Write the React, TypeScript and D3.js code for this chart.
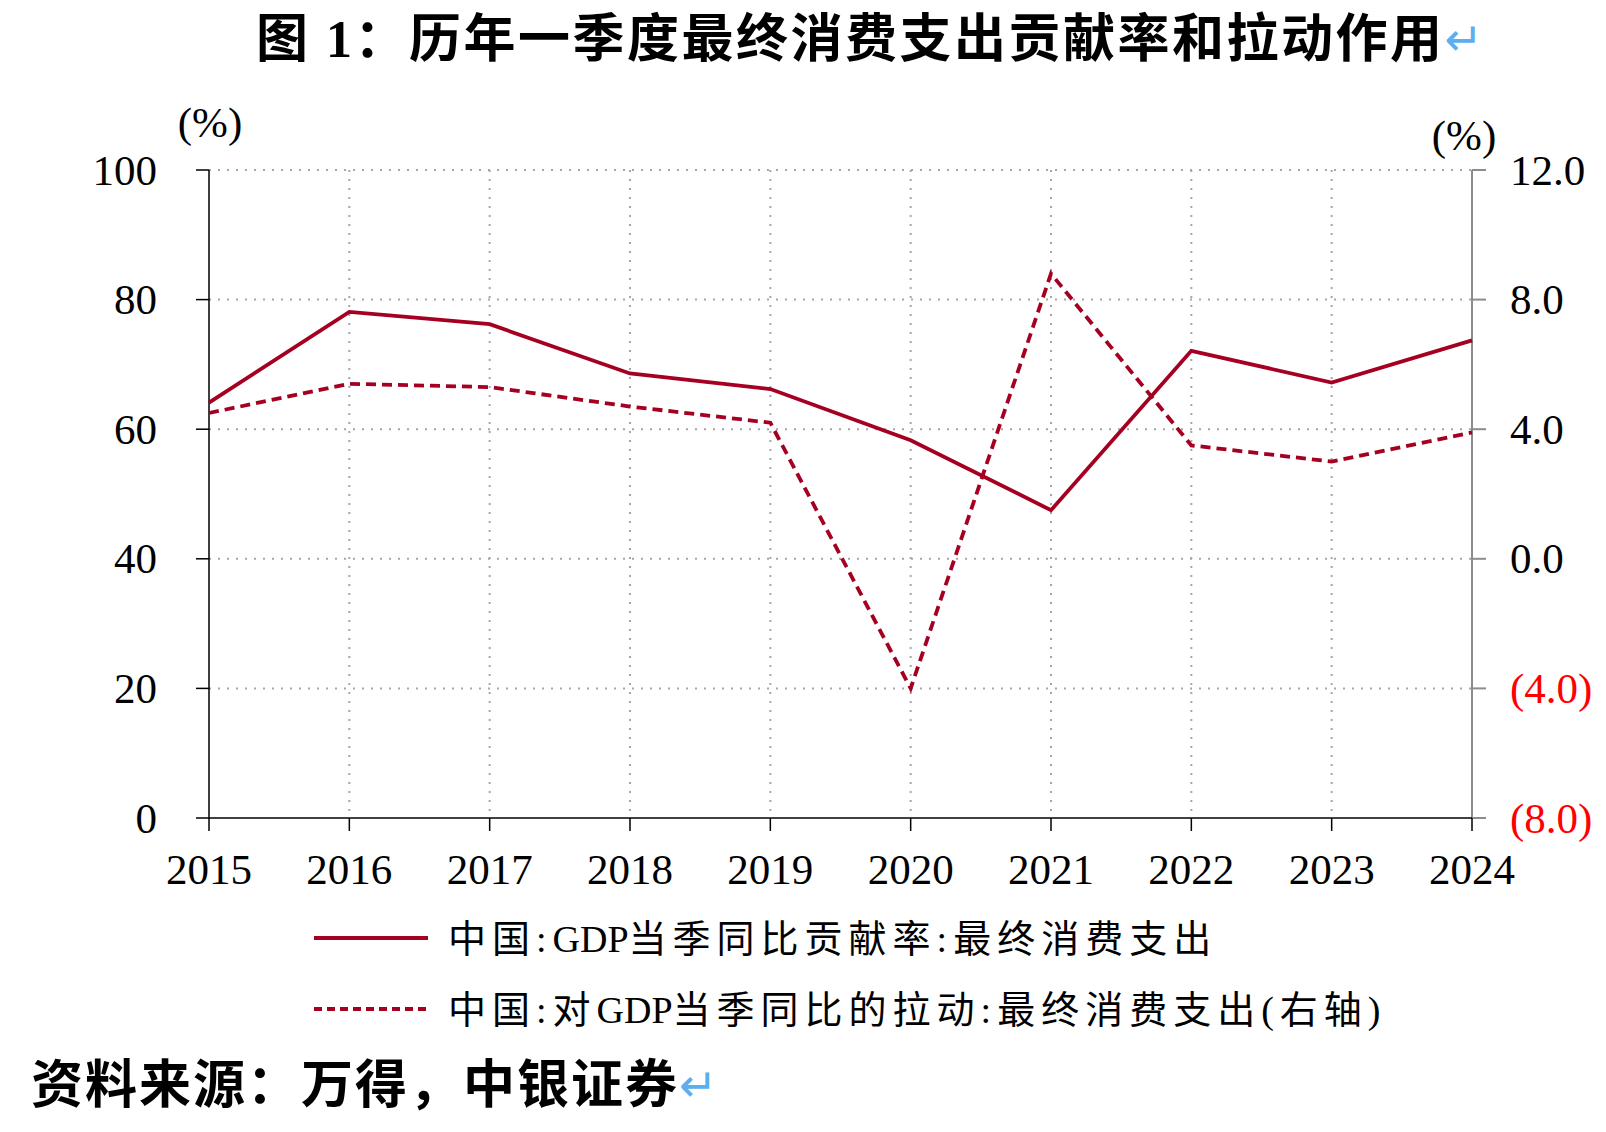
import React from 'react';
import * as d3 from 'd3';

const years = ['2015', '2016', '2017', '2018', '2019', '2020', '2021', '2022', '2023', '2024'];
const contributionRate = [64.1, 78.1, 76.2, 68.6, 66.2, 58.3, 47.5, 72.1, 67.2, 73.7];
const pullEffect = [4.5, 5.4, 5.3, 4.7, 4.2, -4.0, 8.8, 3.5, 3.0, 3.9];
const leftTicks = [0, 20, 40, 60, 80, 100];
const rightTicks = [-8, -4, 0, 4, 8, 12];
const titleText = '图 1：历年一季度最终消费支出贡献率和拉动作用';
const legendLabels = ['中国:GDP当季同比贡献率:最终消费支出', '中国:对GDP当季同比的拉动:最终消费支出(右轴)'];
const sourceText = '资料来源：万得，中银证券';
const unitLabel = '(%)';

const W = 1606;
const H = 1132;
const L = 209;
const R = 1472;
const T = 170;
const B = 818;
const RED = '#A50021';
const SERIF = '"Liberation Serif", "Times New Roman", "Noto Sans CJK SC", serif';

function LegendText({ label, x, y }: { label: string; x: number; y: number }) {
  const parts = label.split(/(GDP)/);
  return (
    <text x={x} y={y} dominantBaseline="central" fontFamily={SERIF} fontSize={38} fill="#000">
      {parts.map((p, i) => (
        <tspan key={i} letterSpacing={p === 'GDP' ? 0 : 6}>{p}</tspan>
      ))}
    </text>
  );
}

export default function App() {
  const x = d3.scalePoint<string>().domain(years).range([L, R]);
  const yL = d3.scaleLinear().domain([0, 100]).range([B, T]);
  const yR = d3.scaleLinear().domain([-8, 12]).range([B, T]);

  const solidPath = d3.line<number>()
    .x((_, i) => x(years[i]) as number)
    .y((d) => yL(d))(contributionRate) as string;
  const dashedPath = d3.line<number>()
    .x((_, i) => x(years[i]) as number)
    .y((d) => yR(d))(pullEffect) as string;

  const fmtR = (v: number) => (v < 0 ? `(${Math.abs(v).toFixed(1)})` : v.toFixed(1));

  return (
    <div style={{ position: 'absolute', left: 0, top: 0 }}>
      <svg width={W} height={H} style={{ display: 'block', background: '#fff' }}>
        {/* title */}
        <text x={256} y={39} dominantBaseline="central" fontFamily={SERIF} fontWeight="bold" fontSize={52} letterSpacing={2.5} fill="#000">
          {titleText}
          <tspan fill="#5BAEF0" fontWeight="normal" fontSize={46} fontFamily='"DejaVu Sans", sans-serif'>↵</tspan>
        </text>

        {/* grid horizontal */}
        {leftTicks.filter((t) => t > 0).map((t) => (
          <line key={'h' + t} x1={L} x2={R} y1={yL(t)} y2={yL(t)} stroke="#a6a6a6" strokeWidth={2} strokeDasharray="2,7" />
        ))}
        {/* grid vertical */}
        {years.slice(1).map((yr) => (
          <line key={'v' + yr} x1={x(yr)} x2={x(yr)} y1={T} y2={B} stroke="#a6a6a6" strokeWidth={2} strokeDasharray="2,7" />
        ))}

        {/* left axis */}
        <line x1={L} x2={L} y1={T} y2={B} stroke="#000" strokeWidth={1.5} />
        {leftTicks.map((t) => (
          <g key={'lt' + t}>
            <line x1={L - 13} x2={L} y1={yL(t)} y2={yL(t)} stroke="#000" strokeWidth={1.5} />
            <text x={157} y={yL(t)} dominantBaseline="central" textAnchor="end" fontFamily={SERIF} fontSize={43} fill="#000">{t}</text>
          </g>
        ))}

        {/* right axis */}
        <line x1={R} x2={R} y1={T} y2={B} stroke="#8c8c8c" strokeWidth={2} />
        {rightTicks.map((t) => (
          <g key={'rt' + t}>
            <line x1={R} x2={R + 14} y1={yR(t)} y2={yR(t)} stroke="#8c8c8c" strokeWidth={2} />
            <text x={1510} y={yR(t)} dominantBaseline="central" textAnchor="start" fontFamily={SERIF} fontSize={43} fill={t < 0 ? '#FF0000' : '#000'}>{fmtR(t)}</text>
          </g>
        ))}

        {/* bottom axis */}
        <line x1={L} x2={R} y1={B} y2={B} stroke="#000" strokeWidth={1.5} />
        {years.map((yr) => (
          <g key={'xt' + yr}>
            <line x1={x(yr)} x2={x(yr)} y1={B} y2={B + 13} stroke="#000" strokeWidth={1.5} />
            <text x={x(yr)} y={884} textAnchor="middle" fontFamily={SERIF} fontSize={43} fill="#000">{yr}</text>
          </g>
        ))}

        {/* unit labels */}
        <text x={210} y={122} textAnchor="middle" dominantBaseline="central" fontFamily={SERIF} fontSize={43}>{unitLabel}</text>
        <text x={1464} y={135} textAnchor="middle" dominantBaseline="central" fontFamily={SERIF} fontSize={43}>{unitLabel}</text>

        {/* series */}
        <path d={solidPath} fill="none" stroke={RED} strokeWidth={3.8} strokeLinejoin="miter" />
        <path d={dashedPath} fill="none" stroke={RED} strokeWidth={3.8} strokeDasharray="10,6" />

        {/* legend */}
        <line x1={314} x2={428} y1={938} y2={938} stroke={RED} strokeWidth={3.8} />
        <LegendText label={legendLabels[0]} x={448} y={939} />
        <line x1={314} x2={428} y1={1009} y2={1009} stroke={RED} strokeWidth={3.8} strokeDasharray="8,5" />
        <LegendText label={legendLabels[1]} x={448} y={1010} />

        {/* source */}
        <text x={31} y={1085} dominantBaseline="central" fontFamily={SERIF} fontWeight="bold" fontSize={52} letterSpacing={2} fill="#000">
          {sourceText}
          <tspan fill="#5BAEF0" fontWeight="normal" fontSize={46} fontFamily='"DejaVu Sans", sans-serif'>↵</tspan>
        </text>
      </svg>
    </div>
  );
}
